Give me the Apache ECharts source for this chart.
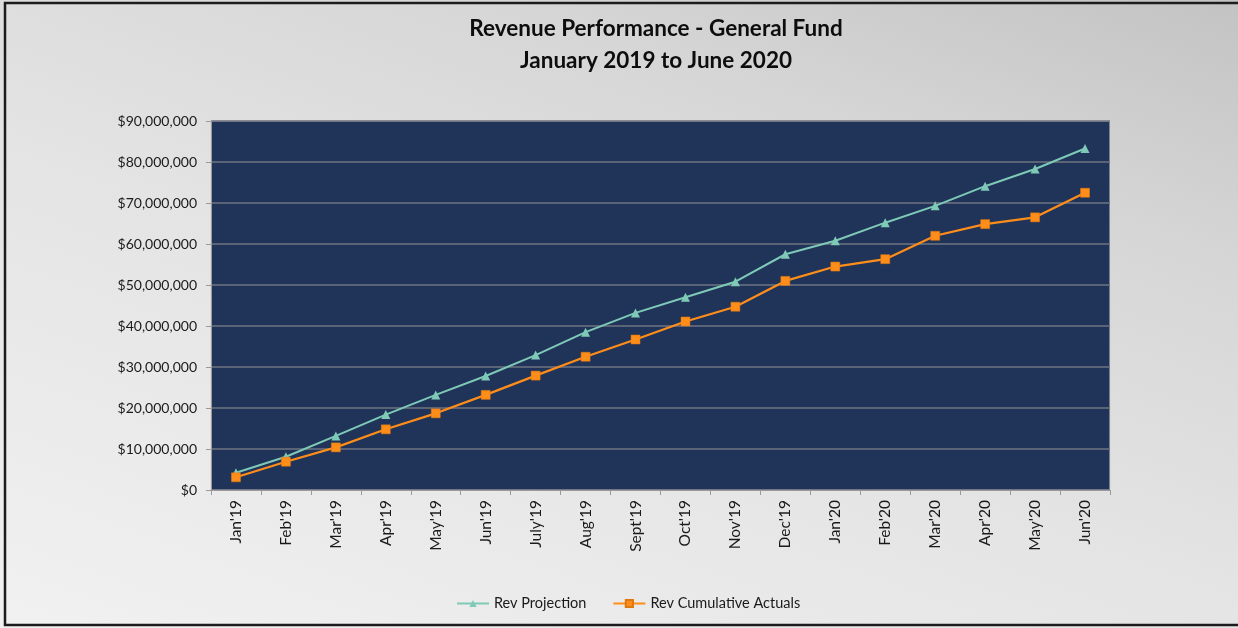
<!DOCTYPE html>
<html>
<head>
<meta charset="utf-8">
<script src="https://cdn.jsdelivr.net/npm/echarts@6/dist/echarts.min.js"></script>
<style>
  html, body { margin: 0; padding: 0; }
  #chart {
    width: 1238px;
    height: 628px;
    background: linear-gradient(20deg, #f1f1f1 0%, #e4e4e4 45%, #d6d6d6 75%, #c3c3c3 100%);
  }
</style>
</head>
<body>
<div id="chart"></div>
<script>
// month labels along the bottom axis
const months = ['Jan\'19', 'Feb\'19', 'Mar\'19', 'Apr\'19', 'May\'19', 'Jun\'19', 'July\'19', 'Aug\'19', 'Sept\'19',
  'Oct\'19', 'Nov\'19', 'Dec\'19', 'Jan\'20', 'Feb\'20', 'Mar\'20', 'Apr\'20', 'May\'20', 'Jun\'20']

// values (dollars)
const revProjection = [4200000, 8100000, 13200000, 18400000, 23200000, 27800000, 32900000, 38500000, 43200000,
  47000000, 50800000, 57500000, 60800000, 65200000, 69300000, 74100000, 78300000, 83300000]
const revActuals = [3100000, 6900000, 10400000, 14800000, 18700000, 23200000, 27900000, 32500000, 36700000,
  41100000, 44700000, 51000000, 54500000, 56300000, 62000000, 64850000, 66500000, 72500000]

const yMax = 90000000
const yStep = 10000000

const font = 'Lato, "Open Sans", sans-serif'

const chart = echarts.init(document.getElementById('chart'))

chart.setOption({
  animation: false,
  textStyle: { fontFamily: font },
  title: {
    text: 'Revenue Performance - General Fund\nJanuary 2019 to June 2020',
    left: 651,
    top: 8,
    textAlign: 'center',
    textStyle: {
      fontFamily: font,
      fontSize: 22.5,
      fontWeight: 'bold',
      color: '#0d0d0d',
      lineHeight: 32
    }
  },
  legend: {
    left: 451,
    top: 591,
    itemWidth: 32,
    itemHeight: 9,
    itemGap: 26,
    textStyle: { fontFamily: font, fontSize: 14.5, color: '#1a1a1a' },
    data: ['Rev Projection', 'Rev Cumulative Actuals']
  },
  grid: {
    left: 211,
    right: 128,
    top: 121,
    bottom: 138,
    show: true,
    backgroundColor: '#203459',
    borderColor: '#d8cfc6',
    borderWidth: 1
  },
  xAxis: {
    type: 'category',
    data: months,
    boundaryGap: true,
    axisLine: { show: true, lineStyle: { color: '#9a9a9a', width: 1 } },
    axisTick: { show: true, length: 5, lineStyle: { color: '#9a9a9a' } },
    axisLabel: { rotate: 90, margin: 10, fontSize: 15.5, color: '#1a1a1a', fontFamily: font }
  },
  yAxis: {
    type: 'value',
    min: 0,
    max: yMax,
    interval: yStep,
    axisLine: { show: true, lineStyle: { color: '#9a9a9a' } },
    axisTick: { show: true, length: 5, lineStyle: { color: '#9a9a9a' } },
    splitLine: { show: true, lineStyle: { color: '#6f7380', width: 1.5 } },
    axisLabel: {
      margin: 14,
      fontSize: 14,
      color: '#1a1a1a',
      fontFamily: font,
      formatter: function(v) {
        return '$' + v.toLocaleString('en-US')
      }
    }
  },
  graphic: [{
    type: 'rect',
    shape: { x: 5, y: 3, width: 1250, height: 622 },
    style: { fill: 'none', stroke: '#1c1c1c', lineWidth: 2.5 },
    silent: true,
    z: 100
  }],
  series: [{
    name: 'Rev Projection',
    type: 'line',
    data: revProjection,
    symbol: 'triangle',
    symbolSize: 9,
    color: '#7ecab7',
    lineStyle: { width: 2, color: '#7ecab7' },
    itemStyle: { color: '#7ecab7' },
    z: 3
  }, {
    name: 'Rev Cumulative Actuals',
    type: 'line',
    data: revActuals,
    symbol: 'rect',
    symbolSize: 9,
    color: '#ff8d1a',
    lineStyle: { width: 2.2, color: '#ff8d1a' },
    itemStyle: { color: '#ff8d1a', borderColor: '#e07810', borderWidth: 0.5 },
    z: 4
  }]
})
</script>
</body>
</html>
